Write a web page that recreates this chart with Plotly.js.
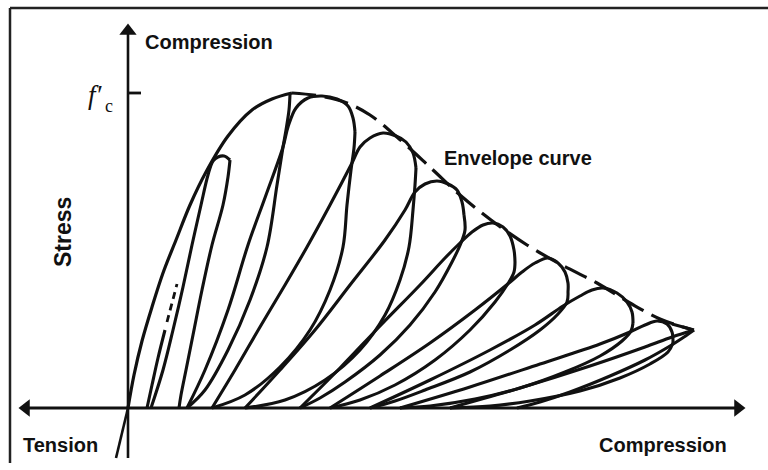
<!DOCTYPE html>
<html>
<head>
<meta charset="utf-8">
<script src="https://cdn.plot.ly/plotly-3.0.1.min.js"></script>
<style>html,body{margin:0;padding:0;background:#fff;}#chart{width:768px;height:470px;}</style>
</head>
<body>
<div id="chart"></div>
<script>
// strain in units of 1e-4, stress in MPa (f'c = 31.5)
const fc = 31.5;
const envRiseX = [0,0.6,1.4,2.4,3.5,4.8,6.2,7.8,10.0,12.4,14.4,16.4];
const envRiseY = [0,3.3,6.7,10.1,13.5,16.8,20.3,23.6,27.2,29.8,30.9,31.5];
const tensX = [0,-1.2];
const tensY = [0,-5.0];
const envFallX = [16.4,19.2,21.9,24.2,26.9,30.5,33.2,36.3,39.9,43.2,46.9,50.2,53.2,56.5];
const envFallY = [31.5,31.2,30.5,29.3,27.1,23.8,21.3,18.8,16.3,14.4,12.5,10.5,8.9,7.8];

const u0X = [1.9,2.4,3.0,3.7];
const u0Y = [0,2.3,5.0,7.8];
const u0dX = [3.9,4.2,4.5,4.9];
const u0dY = [8.6,9.8,11.0,12.4];

const r1X = [2.3,3.5,4.5,5.5,6.4,7.3,8.0,8.5,9.0,9.6,10.2];
const r1Y = [0,3.8,7.8,12.1,16.3,20.3,23.3,24.7,25.1,25.2,24.8];
const u1X = [10.2,10.0,9.5,8.4,7.4,6.5,5.8,5.3,5.1];
const u1Y = [24.8,23.1,20.3,16.3,11.8,7.3,3.8,1.3,0];

const u2X = [16.2,16.1,15.8,15.5,14.9,13.9,12.2,10.0,7.7,5.9];
const u2Y = [31.4,29.8,27.8,26.1,22.3,16.1,10.8,5.8,1.8,0];
const r3X = [5.9,7.7,10.0,12.0,13.8,15.5,16.0,16.8,18.0,19.4,20.9,22.0,22.5,22.7];
const r3Y = [0,3.8,9.8,16.3,21.3,26.1,28.1,30.0,31.0,31.2,30.9,30.2,29.0,27.6];
const u3X = [22.7,22.6,22.3,21.9,21.5,20.2,18.2,15.2,11.7,8.4];
const u3Y = [27.6,26.0,23.8,20.3,16.1,11.8,7.8,4.1,1.3,0];

const r4X = [8.4,10.7,13.2,15.7,17.9,20.2,22.4,23.2,24.2,25.5,26.8,27.8,28.5,28.8];
const r4Y = [0,3.8,8.1,12.3,16.1,20.3,24.5,26.1,27.0,27.5,27.2,26.6,25.5,24.0];
const u4X = [28.8,28.7,28.5,28.1,27.2,25.7,23.2,19.7,15.7,11.7];
const u4Y = [24.0,22.3,19.8,16.1,12.8,9.3,5.8,2.8,0.8,0];

const r5X = [11.7,15.2,18.7,22.2,25.7,27.7,28.7,29.7,30.9,32.0,32.9,33.4,33.6];
const r5Y = [0,3.8,7.8,12.3,16.8,19.8,21.6,22.4,22.7,22.4,21.8,20.6,19.3];
const u5X = [33.6,33.7,33.3,32.4,30.7,28.2,25.2,21.7,19.2,17.2];
const u5Y = [19.3,17.8,16.5,14.6,11.6,8.3,5.3,2.6,1.0,0];

const r6X = [17.2,21.2,25.2,29.2,31.7,33.2,34.4,35.5,36.5,37.5,38.2,38.6,38.7];
const r6Y = [0,4.0,8.2,12.3,15.0,16.5,17.6,18.3,18.5,18.1,17.2,15.8,14.6];
const u6X = [38.7,38.6,38.1,36.7,34.2,30.7,26.7,23.2,20.2];
const u6Y = [14.6,13.6,12.6,10.6,7.8,4.8,2.3,0.8,0];

const r7X = [20.2,25.2,30.2,34.7,38.1,39.4,40.7,42.0,43.0,43.7,44.0,44.0];
const r7Y = [0,3.2,6.5,9.8,12.5,13.6,14.5,15.0,14.5,13.6,12.5,11.6];
const u7X = [44.0,43.9,43.0,41.2,38.2,34.2,29.7,26.7,24.2];
const u7Y = [11.6,10.6,9.4,7.8,5.8,3.6,1.8,0.7,0];

const r8X = [24.2,30.2,36.2,40.7,43.5,45.2,46.4,47.5,48.9,49.9,50.4,50.5];
const r8Y = [0,2.8,5.8,8.3,10.2,11.2,11.8,12.0,11.5,10.6,9.6,8.5];
const u8X = [50.5,50.3,49.4,47.2,43.7,39.2,34.7,30.2,27.2];
const u8Y = [8.5,7.7,6.7,5.2,3.6,2.0,0.9,0.2,0];

const r9X = [27.2,34.2,41.2,47.2,50.2,51.7,52.9,53.9,54.4,54.5];
const r9Y = [0,2.1,4.4,6.4,7.6,8.3,8.7,8.4,7.6,6.5];
const u9X = [54.5,54.0,52.2,49.2,45.2,40.2,36.2,32.2];
const u9Y = [6.5,5.6,4.4,3.0,1.7,0.7,0.2,0];

const r10X = [32.2,39.2,46.2,51.7,54.4,56.6];
const r10Y = [0,2.0,4.2,6.1,7.1,7.8];
const tipX = [54.4,56.6];
const tipY = [8.4,7.8];
const u10X = [56.6,55.6,54.2,51.7,48.2,44.2,41.2,38.9];
const u10Y = [7.8,7.1,6.2,4.8,3.2,1.6,0.6,0];

// axes (arrow ends)
const xAxisX = [-10.6, 61.4];
const yAxisY = [-5.0, 38.1];

const INK = '#111111';
function solid(x, y, w) {
  return {x: x, y: y, mode: 'lines', type: 'scatter', hoverinfo: 'skip',
    line: {color: INK, width: w || 3.1, shape: 'spline', smoothing: 1}};
}
function head(x, y, sym) {
  return {x: [x], y: [y], mode: 'markers', type: 'scatter', hoverinfo: 'skip',
    marker: {symbol: sym, size: 15, color: INK, line: {width: 0}}};
}
const traces = [
  {x: xAxisX, y: [0, 0], mode: 'lines', type: 'scatter', hoverinfo: 'skip', line: {color: INK, width: 2.8}},
  {x: [0, 0], y: yAxisY, mode: 'lines', type: 'scatter', hoverinfo: 'skip', line: {color: INK, width: 2.6}},
  head(xAxisX[0] + 0.4, 0, 'triangle-left'),
  head(xAxisX[1] - 0.4, 0, 'triangle-right'),
  head(0, yAxisY[1] - 0.4, 'triangle-up'),
  solid(envRiseX, envRiseY, 3.2),
  solid(tensX, tensY, 2.6),
  {x: envFallX, y: envFallY, mode: 'lines', type: 'scatter', hoverinfo: 'skip',
    line: {color: INK, width: 3.2, shape: 'spline', smoothing: 1, dash: '24px,9px'}},
  solid(u0X, u0Y),
  {x: u0dX, y: u0dY, mode: 'lines', type: 'scatter', hoverinfo: 'skip',
    line: {color: INK, width: 2.8, dash: '7px,5px'}},
  solid(r1X, r1Y), solid(u1X, u1Y),
  solid(u2X, u2Y), solid(r3X, r3Y), solid(u3X, u3Y),
  solid(r4X, r4Y), solid(u4X, u4Y),
  solid(r5X, r5Y), solid(u5X, u5Y),
  solid(r6X, r6Y), solid(u6X, u6Y),
  solid(r7X, r7Y), solid(u7X, u7Y),
  solid(r8X, r8Y), solid(u8X, u8Y),
  solid(r9X, r9Y), solid(u9X, u9Y),
  solid(r10X, r10Y), solid(tipX, tipY), solid(u10X, u10Y)
];

const labelFont = {family: 'Liberation Sans, Arial, sans-serif', size: 20, color: INK, weight: 'bold'};
const layout = {
  width: 768, height: 470,
  margin: {l: 0, r: 0, t: 0, b: 0},
  paper_bgcolor: '#ffffff', plot_bgcolor: '#ffffff',
  showlegend: false,
  xaxis: {range: [-12.8, 64.0], visible: false, fixedrange: true},
  yaxis: {range: [-6.2, 40.8], visible: false, fixedrange: true},
  shapes: [
    {type: 'line', xref: 'x', yref: 'y', x0: 0, x1: 1.3, y0: fc, y1: fc, line: {color: INK, width: 2.8}},
    {type: 'line', xref: 'paper', yref: 'paper', x0: 10/768, x1: 10/768, y0: 1-8/470, y1: 1-463/470, line: {color: '#222', width: 2.5}},
    {type: 'line', xref: 'paper', yref: 'paper', x0: 10/768, x1: 1, y0: 1-8/470, y1: 1-8/470, line: {color: '#222', width: 2.5}}
  ],
  annotations: [
    {x: 1.5, y: 36.6, xref: 'x', yref: 'y', text: 'Compression', showarrow: false, xanchor: 'left', yanchor: 'middle', font: labelFont},
    {x: 46.9, y: -3.7, xref: 'x', yref: 'y', text: 'Compression', showarrow: false, xanchor: 'left', yanchor: 'middle', font: labelFont},
    {x: -10.7, y: -3.7, xref: 'x', yref: 'y', text: 'Tension', showarrow: false, xanchor: 'left', yanchor: 'middle', font: labelFont},
    {x: 31.4, y: 25.0, xref: 'x', yref: 'y', text: 'Envelope curve', showarrow: false, xanchor: 'left', yanchor: 'middle', font: labelFont},
    {x: -6.5, y: 17.6, xref: 'x', yref: 'y', text: 'Stress', showarrow: false, textangle: -90, xanchor: 'center', yanchor: 'middle',
      font: {family: 'Liberation Sans, Arial, sans-serif', size: 23, color: INK, weight: 'bold'}},
    {x: -2.3, y: 31.3, xref: 'x', yref: 'y', text: 'f′', showarrow: false, xanchor: 'right', yanchor: 'middle',
      font: {family: 'Liberation Serif, serif', size: 27, color: INK, style: 'italic'}},
    {x: -2.5, y: 30.2, xref: 'x', yref: 'y', text: 'c', showarrow: false, xanchor: 'left', yanchor: 'middle',
      font: {family: 'Liberation Serif, serif', size: 18, color: INK}}
  ]
};
Plotly.newPlot('chart', traces, layout, {staticPlot: true, displayModeBar: false});
</script>
</body>
</html>
